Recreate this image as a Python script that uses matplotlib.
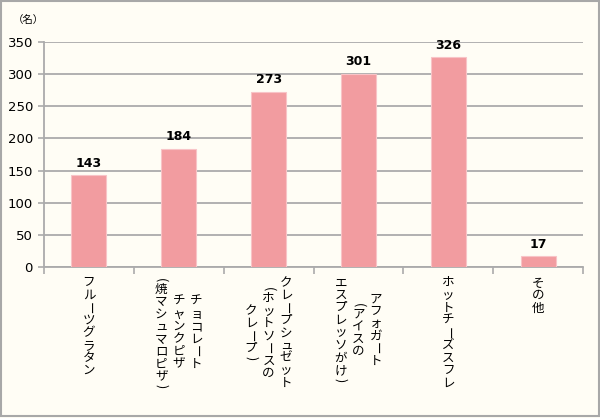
import matplotlib.pyplot as plt
from matplotlib.patches import Rectangle

plt.rcParams['font.family'] = ['Noto Sans CJK JP', 'DejaVu Sans']

# データ
counts = [143, 184, 273, 301, 326, 17]
# 縦書きラベル（右の列から順に）
label_cols = [
    ['フルーツグラタン'],
    ['チョコレート', 'チャンクピザ', '(焼マシュマロピザ)'],
    ['クレープシュゼット', '(ホットソースの', 'クレープ)'],
    ['アフォガート', '(アイスの', 'エスプレッソがけ)'],
    ['ホットチーズスフレ'],
    ['その他'],
]
yticks = [0, 50, 100, 150, 200, 250, 300, 350]

bg = '#FFFDF5'
bar_color = '#F29CA0'
grid_color = '#ABABAB'

fig = plt.figure(figsize=(6, 4.18), dpi=100, facecolor=bg)
ax = fig.add_axes([44 / 600, 1 - 267 / 418, 539 / 600, 225 / 418])
ax.set_facecolor(bg)

x = list(range(len(counts)))
ax.bar(x, counts, width=0.39, color=bar_color, edgecolor='#F8C4C7',
       linewidth=0.8, zorder=3)

for xi, v in zip(x, counts):
    ax.annotate(str(v), xy=(xi, v), xytext=(0, 4), textcoords='offset points',
                ha='center', va='bottom', fontsize=9, fontweight='bold',
                family=['DejaVu Sans'], color='#000000')

ax.set_xlim(-0.5, len(counts) - 0.5)
ax.set_ylim(0, 350)
ax.set_yticks(yticks)
ax.set_yticklabels([str(t) for t in yticks], fontsize=9.5, family=['DejaVu Sans'])
ax.yaxis.grid(True, color=grid_color, linewidth=1.3, zorder=0)
ax.set_axisbelow(True)

ax.set_xticks([])
ax.set_xticks([i - 0.5 for i in range(len(counts) + 1)], minor=True)
ax.tick_params(axis='x', which='minor', length=5, color=grid_color, width=1.2)
ax.tick_params(axis='y', length=4, color=grid_color, width=1.2, pad=4)

for s in ['top', 'right']:
    ax.spines[s].set_visible(False)
for s in ['left', 'bottom']:
    ax.spines[s].set_color(grid_color)
    ax.spines[s].set_linewidth(1.3)

# 縦書きラベルを1文字ずつ配置
step = 9.0        # 文字送り (pt)
col_gap = 12.6    # 列間 (pt)
top = -11.5       # 最初の文字の中心 (pt)
parens = '()'
paren_step = 0.5


def col_len(s):
    return sum(paren_step if c in parens else 1.0 for c in s)


for xi, cols in zip(x, label_cols):
    n = len(cols)
    longest = max(col_len(c) for c in cols)
    for j, col in enumerate(cols):
        dx = ((n - 1) / 2 - j) * col_gap
        pos = (longest - col_len(col)) / 2 * step
        for ch in col:
            w = paren_step if ch in parens else 1.0
            cy = top - pos - (w - 1) / 2 * step
            rot = -90 if ch in 'ー' + parens else 0
            ax.annotate(ch, xy=(xi, 0), xycoords=('data', 'axes fraction'),
                        xytext=(dx, cy), textcoords='offset points',
                        ha='center', va='center', fontsize=9,
                        rotation=rot, annotation_clip=False)
            pos += w * step

fig.text(28 / 600, 1 - 20 / 418, '（名）', fontsize=7.5, ha='center', va='center')

fig.patches.append(Rectangle((1 / 600, 2 / 418), 598 / 600, 415 / 418,
                             transform=fig.transFigure, fill=False,
                             edgecolor='#A8A8A8', linewidth=1.5))

fig.savefig('out.png', dpi=100, facecolor=bg)
